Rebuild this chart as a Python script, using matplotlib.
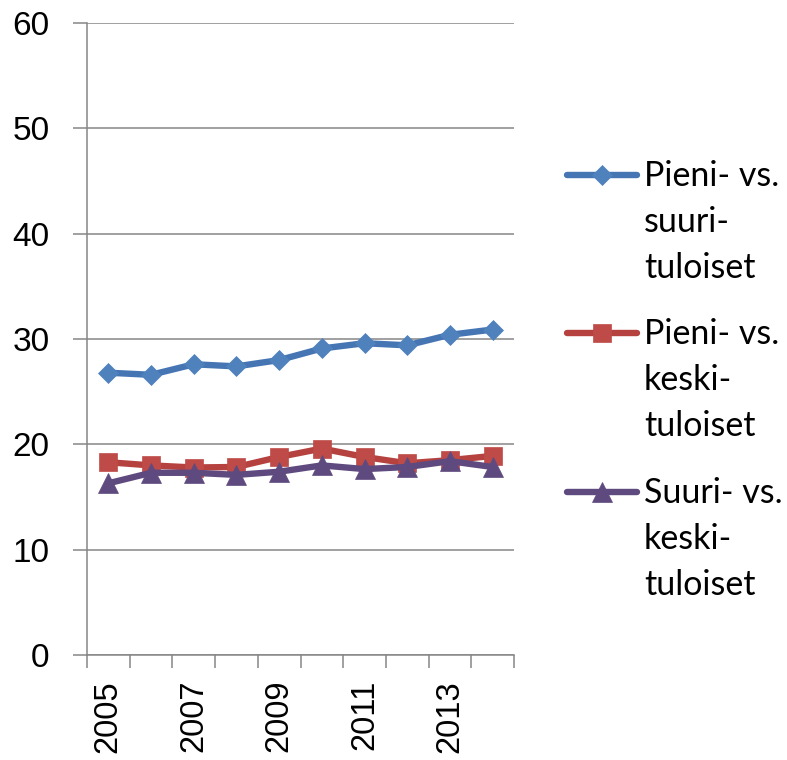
import numpy as np
import matplotlib.pyplot as plt
from matplotlib.lines import Line2D

# data
years = ['2005', '2006', '2007', '2008', '2009', '2010', '2011', '2012', '2013', '2014']
pieni_suuri = [26.8, 26.6, 27.6, 27.4, 28.0, 29.1, 29.6, 29.4, 30.4, 30.9]
pieni_keski = [18.3, 18.0, 17.8, 17.85, 18.8, 19.6, 18.8, 18.2, 18.5, 18.9]
suuri_keski = [16.3, 17.3, 17.3, 17.1, 17.4, 18.0, 17.65, 17.85, 18.4, 17.85]
y_ticks = [0, 10, 20, 30, 40, 50, 60]

legend_labels = [
    ['Pieni- vs.', 'suuri-', 'tuloiset'],
    ['Pieni- vs.', 'keski-', 'tuloiset'],
    ['Suuri- vs.', 'keski-', 'tuloiset'],
]

W, H = 787, 760
fig = plt.figure(figsize=(W / 100, H / 100), dpi=100)
ax = fig.add_axes([87 / W, 1 - 655 / H, (514 - 87) / W, (655 - 23) / H])

grey = '#868686'
# (line colour, marker face colour, marker, size)
styles = [
    ('#4675B4', '#4F81BD', 'D', 10.5),
    ('#B5423F', '#BE4B48', 's', 13.5),
    ('#5F4A7F', '#5F4A7F', '^', 15.0),
]
series = [pieni_suuri, pieni_keski, suuri_keski]

x = np.arange(len(years))
for vals, (lc, mc, mk, ms) in zip(series, styles):
    ax.plot(x, vals, color=lc, lw=4.6, marker=mk, ms=ms,
            markerfacecolor=mc, markeredgecolor=mc, markeredgewidth=0.5,
            solid_capstyle='round', zorder=3)

ax.set_xlim(-0.5, len(years) - 0.5)
ax.set_ylim(0, 60)
ax.set_yticks(y_ticks)
ax.yaxis.grid(True, color=grey, lw=1.1)
ax.set_axisbelow(True)

for s in ['top', 'right']:
    ax.spines[s].set_visible(False)
for s in ['left', 'bottom']:
    ax.spines[s].set_color(grey)
    ax.spines[s].set_linewidth(1.1)

# labels on every other category, tick marks between categories
ax.set_xticks(x[::2])
ax.set_xticklabels(years[::2], rotation=90, fontsize=23.5, family='Liberation Sans')
ax.set_xticks(np.arange(-0.5, len(years)), minor=True)
ax.tick_params(axis='x', which='major', length=0, pad=18)
ax.tick_params(axis='x', which='minor', length=9, width=1.1, color=grey)
ax.tick_params(axis='y', length=10, width=1.1, color=grey, pad=17, labelsize=24)
for t in ax.get_yticklabels():
    t.set_family('Liberation Sans')

# legend drawn by hand so the marker sits on the first text line
def fx(px):
    return px / W

def fy(py):
    return 1 - py / H

entry_base = [186, 344, 503]
for (lc, mc, mk, ms), lines, yb in zip(styles, legend_labels, entry_base):
    yl = yb - 11
    fig.add_artist(Line2D([fx(567), fx(637)], [fy(yl), fy(yl)], color=lc, lw=4.6,
                          solid_capstyle='round'))
    fig.add_artist(Line2D([fx(602)], [fy(yl)], marker=mk, ms=ms, color=mc,
                          markeredgewidth=0.5))
    for i, line in enumerate(lines):
        fig.text(fx(644), fy(yb + i * 46), line, fontsize=24.5, family='Lato',
                 va='baseline', ha='left', color='black')

fig.savefig('out.png', dpi=100)
